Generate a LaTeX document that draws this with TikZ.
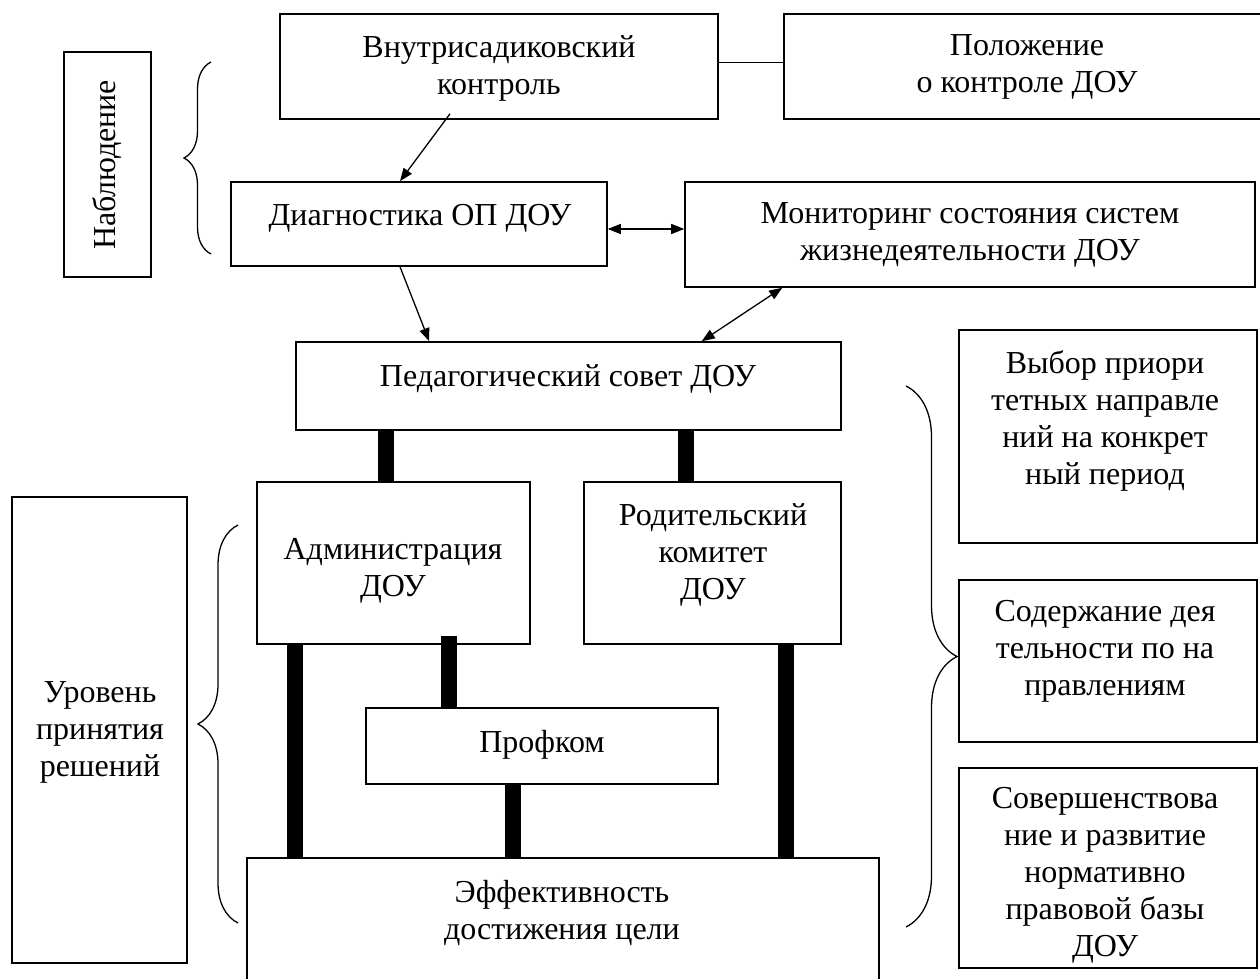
\documentclass[tikz,border=0pt]{standalone}
\usepackage{fontspec}
\setmainfont{Liberation Serif}
\usetikzlibrary{arrows.meta,decorations.pathreplacing}
\tikzset{
 box/.style={draw, line width=1.6pt, inner sep=0pt},
 txt/.style={align=center, inner sep=0pt, font=\fontsize{32}{37}\selectfont},
 bar/.style={line width=16pt},
 link/.style={line width=1.3pt},
 curly/.style={decorate, decoration={brace, amplitude=#1}, line width=1.3pt}
}
\begin{document}
\begin{tikzpicture}[x=1pt, y=-1pt, >={Triangle[length=13pt,width=10pt]}]
 \useasboundingbox (0,0) rectangle (1260,979);
 \node[box, minimum width=87, minimum height=225] (nabl) at (107.5,164.5) {};
 \node[txt, rotate=90] (nabl-t) at (107,165) {Наблюдение};
 \node[box, minimum width=438, minimum height=105] (vnutr) at (499,66.5) {};
 \node[txt] (vnutr-t) at (499,68) {Внутрисадиковский\\контроль};
 \node[box, minimum width=486, minimum height=105] (polozh) at (1027,66.5) {};
 \node[txt] (polozh-t) at (1027,67) {Положение\\о контроле ДОУ};
 \node[box, minimum width=376, minimum height=84] (diag) at (419,224) {};
 \node[txt] (diag-t) at (420,218) {Диагностика ОП ДОУ};
 \node[box, minimum width=570, minimum height=105] (monitor) at (970,234.5) {};
 \node[txt] (monitor-t) at (970,235) {Мониторинг состояния систем\\жизнедеятельности ДОУ};
 \node[box, minimum width=545, minimum height=88] (ped) at (568.5,386) {};
 \node[txt] (ped-t) at (568,379) {Педагогический совет ДОУ};
 \node[box, minimum width=273, minimum height=162] (admin) at (393.5,563) {};
 \node[txt] (admin-t) at (393,571) {Администрация\\ДОУ};
 \node[box, minimum width=257, minimum height=162] (rodit) at (712.5,563) {};
 \node[txt] (rodit-t) at (713,555) {Родительский\\комитет\\ДОУ};
 \node[box, minimum width=352, minimum height=76] (profkom) at (542,746) {};
 \node[txt] (profkom-t) at (542,745) {Профком};
 \node[box, minimum width=632, minimum height=160] (effect) at (563,938) {};
 \node[txt] (effect-t) at (562,913) {Эффективность\\достижения цели};
 \node[box, minimum width=175, minimum height=466] (uroven) at (99.5,730) {};
 \node[txt] (uroven-t) at (100,732) {Уровень\\принятия\\решений};
 \node[box, minimum width=298, minimum height=213] (vybor) at (1108,436.5) {};
 \node[txt] (vybor-t) at (1105,421) {Выбор приори\\тетных направле\\ний на конкрет\\ный период};
 \node[box, minimum width=298, minimum height=162] (soderzh) at (1108,661) {};
 \node[txt] (soderzh-t) at (1105,651) {Содержание дея\\тельности по на\\правлениям};
 \node[box, minimum width=298, minimum height=200] (sovershen) at (1108,868) {};
 \node[txt] (sovershen-t) at (1105,875) {Совершенствова\\ние и развитие\\нормативно\\правовой базы\\ДОУ};
 \coordinate (vp) at ([yshift=4]vnutr.east);
 \draw[link] (vp) -- (vp -| polozh.west);
 \draw[link, ->] ([xshift=-49,yshift=6]vnutr.south) -- ([xshift=-19]diag.north);
 \draw[link, ->] ([xshift=-19]diag.south) -- ([xshift=134]ped.north west);
 \coordinate (dm) at ([yshift=-5]diag.east);
 \draw[link, <->] (dm) -- (dm -| monitor.west);
 \draw[link, <->] ([xshift=-140]ped.north east) -- ([xshift=98]monitor.south west);
 \coordinate (b1) at ([xshift=-7.5]admin.north);
 \draw[bar] (b1) -- (b1 |- ped.south);
 \coordinate (b2) at ([xshift=-26.5]rodit.north);
 \draw[bar] (b2) -- (b2 |- ped.south);
 \coordinate (b3) at ([xshift=39]admin.south west);
 \draw[bar] (b3) -- (b3 |- effect.north);
 \coordinate (b4) at ([xshift=83.5]profkom.north west);
 \coordinate (b4top) at ([yshift=9]admin.south);
 \draw[bar] (b4) -- (b4 |- b4top);
 \coordinate (b5) at ([xshift=148]profkom.south west);
 \draw[bar] (b5) -- (b5 |- effect.north);
 \coordinate (b6) at ([xshift=-56]rodit.south east);
 \draw[bar] (b6) -- (b6 |- effect.north);
 \draw[curly=27] (211,254) -- (211,62);
 \draw[curly=40] (238,923) -- (238,525);
 \draw[curly=51] (906,386) -- (906,927);
\end{tikzpicture}
\end{document}
